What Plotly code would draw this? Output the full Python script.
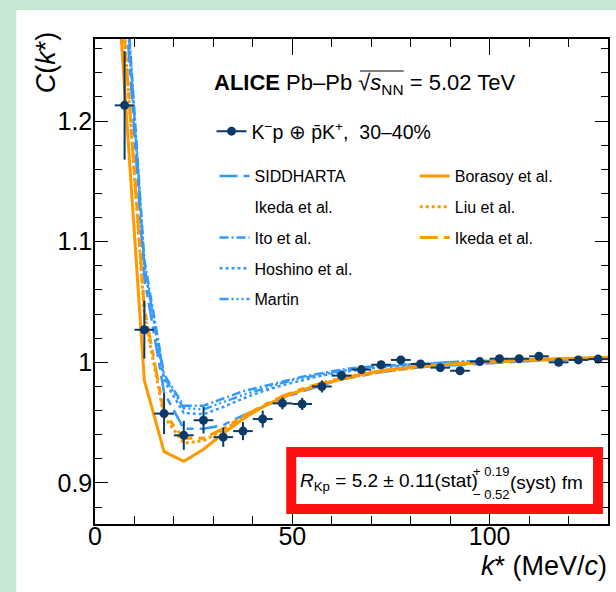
import plotly.graph_objects as go

# ---------------- data ----------------
k_data = [7.5, 12.5, 17.5, 22.5, 27.5, 32.5, 37.5, 42.5, 47.5, 52.5, 57.5, 62.5, 67.5,
          72.5, 77.5, 82.5, 87.5, 92.5, 97.5, 102.5, 107.5, 112.5, 117.5, 122.5, 127.5]
C_data = [1.213, 1.027, 0.9575, 0.9395, 0.952, 0.938, 0.943, 0.953, 0.966, 0.9655, 0.980,
          0.989, 0.994, 0.998, 1.002, 0.9986, 0.9956, 0.993, 1.0006, 1.003, 1.003, 1.005,
          1.000, 1.002, 1.0027]
C_err = [0.045, 0.024, 0.017, 0.012, 0.011, 0.008, 0.0075, 0.007, 0.005, 0.005, 0.005,
         0.004, 0.003, 0.003, 0.003, 0.003, 0.003, 0.003, 0.0025, 0.0025, 0.0025, 0.0025,
         0.0025, 0.0025, 0.0025]
k_err = [2.5] * len(k_data)

k_theory = [2.5, 7.5, 12.5, 17.5, 22.5, 27.5, 32.5, 37.5, 42.5, 47.5, 52.5, 57.5, 62.5, 67.5,
            72.5, 77.5, 82.5, 87.5, 92.5, 97.5, 102.5, 107.5, 112.5, 117.5, 122.5, 127.5, 132.5]
C_siddharta = [1.60, 1.307, 1.07, 0.975, 0.945, 0.945, 0.948, 0.956, 0.963, 0.970, 0.976,
               0.981, 0.986, 0.989, 0.992, 0.994, 0.996, 0.997, 0.998, 0.999, 1.000, 1.001,
               1.0015, 1.002, 1.0025, 1.003, 1.0035]
C_ito = [1.62, 1.33, 1.085, 0.990, 0.964, 0.964, 0.970, 0.976, 0.980, 0.984, 0.988, 0.991,
         0.994, 0.996, 0.997, 0.998, 0.999, 1.000, 1.0005, 1.001, 1.0015, 1.002, 1.0025,
         1.003, 1.0035, 1.004, 1.004]
C_hoshino = [1.60, 1.32, 1.08, 0.985, 0.958, 0.957, 0.963, 0.970, 0.976, 0.981, 0.985, 0.989,
             0.992, 0.994, 0.996, 0.997, 0.998, 0.999, 1.000, 1.0005, 1.001, 1.0015, 1.002,
             1.0025, 1.003, 1.0035, 1.004]
C_martin = [1.61, 1.325, 1.08, 0.988, 0.962, 0.961, 0.967, 0.973, 0.978, 0.983, 0.987, 0.990,
            0.993, 0.995, 0.997, 0.998, 0.999, 1.000, 1.0005, 1.001, 1.0015, 1.002, 1.0025,
            1.003, 1.0035, 1.004, 1.004]
C_borasoy = [1.47, 1.225, 0.985, 0.926, 0.918, 0.928, 0.941, 0.953, 0.963, 0.971, 0.977,
             0.982, 0.986, 0.990, 0.993, 0.995, 0.997, 0.998, 0.999, 1.000, 1.001, 1.002,
             1.0025, 1.003, 1.0035, 1.004, 1.0045]
C_liu = [1.55, 1.27, 1.04, 0.955, 0.933, 0.935, 0.944, 0.954, 0.963, 0.971, 0.977, 0.982,
         0.986, 0.989, 0.992, 0.994, 0.996, 0.998, 0.999, 1.000, 1.001, 1.0015, 1.002,
         1.0025, 1.003, 1.0035, 1.004]
C_ikeda_orange = [1.55, 1.268, 1.045, 0.958, 0.937, 0.937, 0.945, 0.955, 0.964, 0.972, 0.978,
                  0.983, 0.987, 0.990, 0.993, 0.995, 0.997, 0.998, 0.999, 1.000, 1.001,
                  1.0015, 1.002, 1.0025, 1.003, 1.0035, 1.004]

x_ticks = [0, 50, 100]
y_ticks = [0.9, 1.0, 1.1, 1.2]
y_tick_labels = ["0.9", "1", "1.1", "1.2"]

# ---------------- style ----------------
BLUE = "#3399ff"
ORANGE = "#ff9900"
NAVY = "#0b3a68"
FONT = "Liberation Sans, Arial, Helvetica, sans-serif"

W_FIG, H_FIG = 616, 592
L, R, T, B = 95, 610, 39, 524
PW, PH = R - L, B - T


def px(x):
    return (x - L) / PW


def py(y):
    return (B - y) / PH


fig = go.Figure()

theory = [
    ("SIDDHARTA", C_siddharta, BLUE, "18px,6px,7px,6px", 2.5, "legend2"),
    ("Ito et al.", C_ito, BLUE, "9px,3px,2px,3px", 2.5, "legend2"),
    ("Hoshino et al.", C_hoshino, BLUE, "3px,3px", 2.5, "legend2"),
    ("Martin", C_martin, BLUE, "9px,3px,2px,3px,2px,3px,2px,3px", 2.5, "legend2"),
    ("Borasoy et al.", C_borasoy, ORANGE, "solid", 3, "legend3"),
    ("Liu et al.", C_liu, ORANGE, "3px,3px", 3, "legend3"),
    ("Ikeda et al.", C_ikeda_orange, ORANGE, "18px,6px,7px,6px", 3, "legend3"),
]

rank = 1
for name, vals, col, dash, w, leg in theory:
    fig.add_trace(go.Scatter(x=k_theory, y=vals, mode="lines", name=name,
                             line=dict(color=col, dash=dash, width=w),
                             legend=leg, legendgroup=name + leg, legendrank=rank))
    rank += 1
    if name == "SIDDHARTA":
        # second text line of the SIDDHARTA entry ("Ikeda et al.") without a sample
        fig.add_trace(go.Scatter(x=[None], y=[None], mode="lines", name="Ikeda et al.",
                                 line=dict(color="rgba(0,0,0,0)", width=0),
                                 legend="legend2", legendgroup="sidd2", legendrank=rank,
                                 hoverinfo="skip"))
        rank += 1

# data
fig.add_trace(go.Scatter(x=k_data, y=C_data, mode="markers", showlegend=False,
                         marker=dict(color=NAVY, size=9),
                         error_y=dict(type="data", array=C_err, color=NAVY, thickness=2, width=0),
                         error_x=dict(type="data", array=k_err, color=NAVY, thickness=2, width=0)))
fig.add_trace(go.Scatter(x=[None], y=[None], mode="lines+markers",
                         name="K<sup>\u2212</sup>p \u2295 p\u0304K<sup>+</sup>,  30\u201340%",
                         marker=dict(color=NAVY, size=9), line=dict(color=NAVY, width=2),
                         legend="legend"))

axis_common = dict(showline=True, linecolor="black", linewidth=1.5, mirror="ticks",
                   ticks="inside", tickcolor="black", tickwidth=1.2, showgrid=False,
                   zeroline=False, tickfont=dict(family=FONT, size=25, color="black"))

fig.update_xaxes(range=[0, 130], tickvals=x_ticks, ticklen=16, ticklabelstandoff=-11,
                 minor=dict(dtick=10, ticklen=8, ticks="inside", tickcolor="black", tickwidth=1.2),
                 **axis_common)
fig.update_yaxes(range=[0.866, 1.268], tickvals=y_ticks, ticktext=y_tick_labels, ticklen=13,
                 ticklabelstandoff=-4,
                 minor=dict(dtick=0.02, ticklen=7, ticks="inside", tickcolor="black", tickwidth=1.2),
                 **axis_common)

leg_common = dict(bgcolor="rgba(0,0,0,0)", xanchor="left", yanchor="top",
                  tracegroupgap=7, traceorder="grouped", valign="middle")
fig.update_layout(
    width=W_FIG, height=H_FIG,
    margin=dict(l=L, r=W_FIG - R, t=T, b=H_FIG - B),
    paper_bgcolor="#c5e7d4", plot_bgcolor="white",
    font=dict(family=FONT, color="black"),
    legend=dict(x=px(212), y=py(112), font=dict(size=19.5), **leg_common),
    legend2=dict(x=px(215), y=py(159), font=dict(size=16), **leg_common),
    legend3=dict(x=px(416), y=py(159), font=dict(size=16), **leg_common),
)

# white panel on the light-green page background
fig.add_shape(type="rect", xref="paper", yref="paper", x0=px(16), x1=px(616 + 5),
              y0=py(592 + 5), y1=py(10), fillcolor="white", line=dict(width=0), layer="below")

# red hand-drawn-like frame around the radius result
for d, wd in [(0, 10), (2, 3), (-2, 3)]:
    fig.add_shape(type="rect", xref="paper", yref="paper",
                  x0=px(292 + d), x1=px(600 - d), y0=py(509 - d), y1=py(452 + d),
                  fillcolor="white" if d == 0 else "rgba(0,0,0,0)",
                  line=dict(color="#ff1010", width=wd), layer="above")

# overline of the square root
fig.add_shape(type="line", xref="paper", yref="paper", x0=px(361), x1=px(405),
              y0=py(71), y1=py(71), line=dict(color="black", width=1))

ann = []
ann.append(dict(text="<b>ALICE</b> Pb\u2013Pb \u221a<i>s</i><sub>NN</sub> = 5.02 TeV",
                x=px(212), y=py(84), xanchor="left", yanchor="middle",
                font=dict(size=22)))
ann.append(dict(text="<i>R</i><sub>Kp</sub> = 5.2 \u00b1 0.11(stat)",
                x=px(299), y=py(482), xanchor="left", yanchor="middle", font=dict(size=19)))
ann.append(dict(text="+ 0.19", x=px(472), y=py(471), xanchor="left", yanchor="middle",
                font=dict(size=13)))
ann.append(dict(text="\u2212 0.52", x=px(472), y=py(494), xanchor="left", yanchor="middle",
                font=dict(size=13)))
ann.append(dict(text="(syst) fm", x=px(510), y=py(482), xanchor="left", yanchor="middle",
                font=dict(size=19)))
ann.append(dict(text="<i>k</i>* (MeV/<i>c</i>)", x=px(611), y=py(566), xanchor="right",
                yanchor="middle", font=dict(size=27)))
ann.append(dict(text="<i>C</i>(<i>k</i>*)", x=px(46), y=py(29), xanchor="center",
                yanchor="top", textangle=-90, font=dict(size=27)))
for a in ann:
    a.update(xref="paper", yref="paper", showarrow=False)
    fig.add_annotation(**a)

fig.write_html("out.html", config={"displayModeBar": False},
               post_script="document.body.style.margin='0px';")
